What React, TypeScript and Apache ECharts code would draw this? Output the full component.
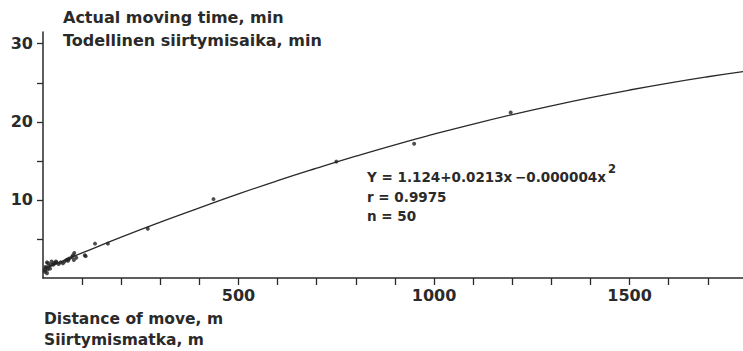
import React, { useEffect, useRef } from "react";
import * as echarts from "echarts";

const points: [number, number][] = [
  [5, 0.8], [5, 1.0], [6, 1.4], [8, 1.3], [10, 2.0], [10, 0.6], [12, 1.1],
  [13, 1.9], [15, 1.5], [18, 1.2], [20, 1.7], [22, 2.1], [26, 1.7],
  [28, 1.9], [31, 1.9], [33, 2.1], [35, 2.0], [40, 1.8], [45, 2.0],
  [51, 1.9], [55, 2.1], [60, 2.3], [64, 2.4], [64, 2.2], [68, 2.5],
  [74, 2.7], [77, 2.9], [79, 2.3], [80, 3.2], [85, 2.6], [107, 2.9],
  [109, 2.8], [133, 4.4], [166, 4.4], [268, 6.3], [436, 10.1],
  [750, 14.9], [949, 17.2], [1196, 21.2],
];

const curveX = [0, 50, 100, 200, 300, 400, 500, 600, 700, 800, 900, 1000, 1100, 1200, 1300, 1400, 1500, 1600, 1700, 1790];
const curveY = [1.12, 2.18, 3.21, 5.23, 7.15, 8.98, 10.77, 12.46, 14.06, 15.6, 17.06, 18.42, 19.71, 20.92, 22.05, 23.1, 24.07, 24.96, 25.77, 26.43];

const xTicks = [100, 200, 300, 400, 500, 600, 700, 800, 900, 1000, 1100, 1200, 1300, 1400, 1500, 1600, 1700];
const xLabels = [500, 1000, 1500];
const yTicks = [5, 10, 15, 20, 25, 30];
const yLabels = [10, 20, 30];

const yTitle = ["Actual moving time, min", "Todellinen siirtymisaika, min"];
const xTitle = ["Distance of move, m", "Siirtymismatka, m"];
const stats = ["Y = 1.124+0.0213x\u2009\u22120.000004x", "r = 0.9975", "n = 50"];

const FONT = "'DejaVu Sans', 'Liberation Sans', sans-serif";
const INK = "#2a2a2a";

export default function App() {
  const ref = useRef<HTMLDivElement>(null);
  useEffect(() => {
    if (!ref.current) return;
    const chart = echarts.init(ref.current, undefined, { renderer: "svg" });
    const txt = (text: string, x: number, y: number, size: number, weight = "bold") => ({
      type: "text",
      x,
      y,
      style: {
        text,
        fill: INK,
        font: `${weight} ${size}px ${FONT}`,
        verticalAlign: "middle",
      },
    });
    chart.setOption({
      animation: false,
      backgroundColor: "#ffffff",
      grid: { left: 43, right: 0, top: 32, bottom: 73, containLabel: false },
      xAxis: {
        type: "value",
        min: 0,
        max: 1790,
        axisLine: { show: true, lineStyle: { color: INK, width: 1.5 } },
        axisTick: { show: true, length: 7, customValues: xTicks, lineStyle: { color: INK, width: 1.3 } },
        axisLabel: {
          customValues: xLabels,
          formatter: (v: number) => String(v),
          margin: 9,
          color: INK,
          fontSize: 16,
          fontWeight: "bold",
          fontFamily: FONT,
        },
        splitLine: { show: false },
      },
      yAxis: {
        type: "value",
        min: 0,
        max: 31.5,
        axisLine: { show: true, lineStyle: { color: INK, width: 1.5 } },
        axisTick: { show: true, length: 6, customValues: yTicks, lineStyle: { color: INK, width: 1.3 } },
        axisLabel: {
          customValues: yLabels,
          formatter: (v: number) => String(v),
          margin: 10,
          color: INK,
          fontSize: 16,
          fontWeight: "bold",
          fontFamily: FONT,
        },
        splitLine: { show: false },
      },
      series: [
        {
          type: "line",
          data: curveX.map((x, i) => [x, curveY[i]]),
          smooth: true,
          showSymbol: false,
          lineStyle: { color: INK, width: 1.3 },
          z: 2,
        },
        {
          type: "scatter",
          data: points,
          symbolSize: 4,
          itemStyle: { color: "#222" },
          z: 3,
        },
      ],
      graphic: [
        txt(yTitle[0], 63, 17, 16),
        txt(yTitle[1], 63, 40, 16),
        txt(xTitle[0], 44, 319, 15.5),
        txt(xTitle[1], 44, 340, 15.5),
        txt(stats[0], 367, 177, 13.5),
        txt("2", 608, 169, 11.5),
        txt(stats[1], 367, 197, 13.5),
        txt(stats[2], 367, 216, 13.5),
      ],
    });
    return () => chart.dispose();
  }, []);
  return <div ref={ref} style={{ width: 743, height: 351, position: "absolute", left: 0, top: 0 }} />;
}
